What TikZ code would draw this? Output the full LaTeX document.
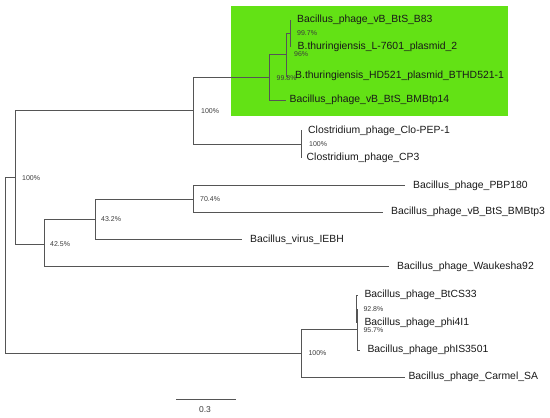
\documentclass[tikz,border=0pt]{standalone}
\usepackage{fontspec}
\setmainfont{Liberation Sans}
\definecolor{clade}{RGB}{99,226,21}
\definecolor{branch}{RGB}{85,85,85}
\definecolor{leaftext}{RGB}{25,25,25}
\definecolor{suptext}{RGB}{60,60,60}
\tikzset{
  edge/.style={draw=branch, line width=0.9pt},
  leaf/.style={anchor=west, inner sep=0pt, text=leaftext, font=\fontsize{10.4}{12}\selectfont},
  support/.style={anchor=west, inner sep=0pt, text=suptext, font=\fontsize{7}{8}\selectfont},
  scalelabel/.style={anchor=center, inner sep=0pt, text=suptext, font=\fontsize{8.5}{10}\selectfont},
}
\begin{document}
\begin{tikzpicture}[x=1pt,y=-1pt]
\useasboundingbox (0,0) rectangle (550,418);
% highlighted clade
\fill[clade] (231,6) rectangle (508,116);
% internal nodes
\coordinate (R) at (5,265.4);
\coordinate (N1) at (15,177.5);
\coordinate (T) at (193,110.8);
\coordinate (C) at (269,77.5);
\coordinate (B) at (286.7,54.5);
\coordinate (A) at (290,33);
\coordinate (CL) at (301,144);
\coordinate (G) at (44,244);
\coordinate (H) at (95,219.5);
\coordinate (I) at (193,199);
\coordinate (F) at (301.7,353.3);
\coordinate (E) at (357,329.5);
\coordinate (D) at (356.5,309);
% leaf ends
\coordinate (lB83) at (290.5,20);
\coordinate (lL76) at (290.5,46);
\coordinate (lHD) at (288,76);
\coordinate (lB14) at (286,100);
\coordinate (lClo) at (301.5,130.5);
\coordinate (lCP3) at (301.5,157.5);
\coordinate (lPBP) at (405,185.5);
\coordinate (lBMB3) at (383.3,212);
\coordinate (lIEBH) at (241.7,239.5);
\coordinate (lWau) at (389,266.7);
\coordinate (lBtCS) at (357,295);
\coordinate (lphi) at (357,322.7);
\coordinate (lphIS) at (360,350);
\coordinate (lCar) at (405,377.3);
% branches
\draw[edge] (R) |- (N1);
\draw[edge] (R) |- (F);
\draw[edge] (N1) |- (T);
\draw[edge] (N1) |- (G);
\draw[edge] (T) |- (C);
\draw[edge] (T) |- (CL);
\draw[edge] (C) |- (B);
\draw[edge] (C) |- (lB14);
\draw[edge] (B) |- (A);
\draw[edge] (B) |- (lHD);
\draw[edge] (A) |- (lB83);
\draw[edge] (A) |- (lL76);
\draw[edge] (CL) |- (lClo);
\draw[edge] (CL) |- (lCP3);
\draw[edge] (G) |- (H);
\draw[edge] (G) |- (lWau);
\draw[edge] (H) |- (I);
\draw[edge] (H) |- (lIEBH);
\draw[edge] (I) |- (lPBP);
\draw[edge] (I) |- (lBMB3);
\draw[edge] (F) |- (E);
\draw[edge] (F) |- (lCar);
\draw[edge] (E) |- (D);
\draw[edge] (E) |- (lphIS);
\draw[edge] (D) |- (lBtCS);
\draw[edge] (D) |- (lphi);
% leaf labels
\node[leaf] (tB83) at (297,20) {Bacillus\_phage\_vB\_BtS\_B83};
\node[leaf] (tL76) at (297.5,46.5) {B.thuringiensis\_L-7601\_plasmid\_2};
\node[leaf] (tHD) at (295,76) {B.thuringiensis\_HD521\_plasmid\_BTHD521-1};
\node[leaf] (tB14) at (289.5,99.5) {Bacillus\_phage\_vB\_BtS\_BMBtp14};
\node[leaf] (tClo) at (308,130.5) {Clostridium\_phage\_Clo-PEP-1};
\node[leaf] (tCP3) at (306.5,158) {Clostridium\_phage\_CP3};
\node[leaf] (tPBP) at (413,185.5) {Bacillus\_phage\_PBP180};
\node[leaf] (tBMB3) at (391,212) {Bacillus\_phage\_vB\_BtS\_BMBtp3};
\node[leaf] (tIEBH) at (250,239.5) {Bacillus\_virus\_IEBH};
\node[leaf] (tWau) at (397,266.7) {Bacillus\_phage\_Waukesha92};
\node[leaf] (tBtCS) at (364.3,295) {Bacillus\_phage\_BtCS33};
\node[leaf] (tphi) at (364.3,322.7) {Bacillus\_phage\_phi4I1};
\node[leaf] (tphIS) at (367.3,350) {Bacillus\_phage\_phIS3501};
\node[leaf] (tCar) at (408.3,377.3) {Bacillus\_phage\_Carmel\_SA};
% support values
\node[support] (sA) at (297,33) {99.7\%};
\node[support] (sB) at (294,54.5) {96\%};
\node[support] (sC) at (276.5,78) {99.8\%};
\node[support] (sT) at (201,110.8) {100\%};
\node[support] (sCL) at (309,144) {100\%};
\node[support] (sN1) at (22,177.7) {100\%};
\node[support] (sI) at (200,199) {70.4\%};
\node[support] (sH) at (101,219.5) {43.2\%};
\node[support] (sG) at (50,244) {42.5\%};
\node[support] (sD) at (363.3,309.3) {92.8\%};
\node[support] (sE) at (363.3,330) {95.7\%};
\node[support] (sF) at (308.3,353.3) {100\%};
% scale bar
\coordinate (sb1) at (176,399.3);
\coordinate (sb2) at (236,399.3);
\draw[edge] (sb1) -- (sb2);
\node[scalelabel] (sbl) at (205,410) {0.3};
\end{tikzpicture}
\end{document}
